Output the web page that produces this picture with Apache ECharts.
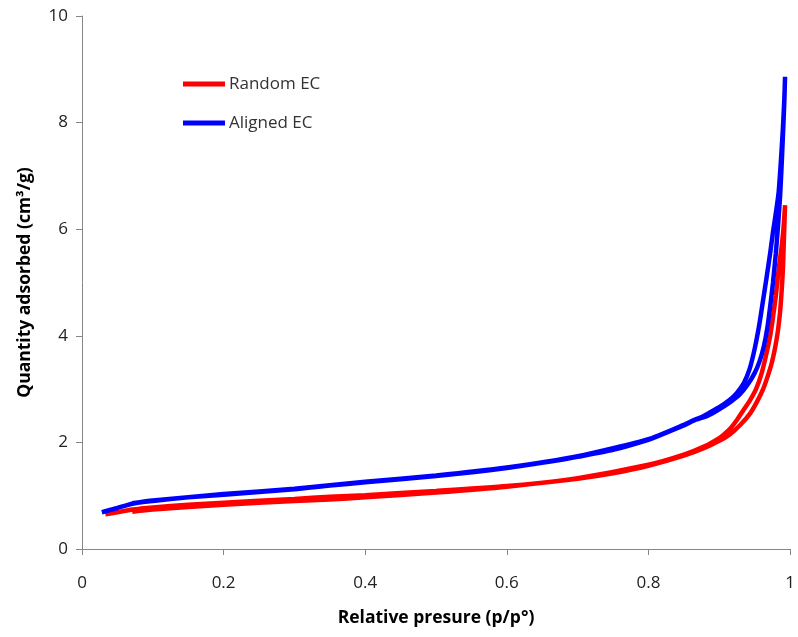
<!DOCTYPE html>
<html>
<head>
<meta charset="utf-8">
<script src="https://cdn.jsdelivr.net/npm/echarts@6/dist/echarts.min.js"></script>
<style>
html,body{margin:0;padding:0;background:#fff;}
#chart{width:798px;height:637px;}
</style>
</head>
<body>
<div id="chart"></div>
<script>
// Axis ticks
const xTicks = [0, 0.2, 0.4, 0.6, 0.8, 1];
const yTicks = [0, 2, 4, 6, 8, 10];

// Random EC - adsorption branch
const randomAdsP = [0.033, 0.05, 0.071, 0.1, 0.15, 0.2, 0.3, 0.35, 0.4, 0.5, 0.6, 0.7, 0.75, 0.8, 0.85, 0.88, 0.9, 0.915, 0.93, 0.944, 0.954, 0.962, 0.968, 0.974, 0.979, 0.983, 0.986, 0.988, 0.99, 0.991, 0.992, 0.993];
const randomAdsQ = [0.65, 0.69, 0.74, 0.78, 0.83, 0.87, 0.94, 0.98, 1.01, 1.09, 1.18, 1.32, 1.42, 1.56, 1.75, 1.90, 2.03, 2.15, 2.33, 2.55, 2.78, 3.00, 3.22, 3.48, 3.78, 4.10, 4.45, 4.80, 5.25, 5.65, 6.05, 6.45];
// Random EC - desorption branch
const randomDesP = [0.993, 0.991, 0.988, 0.984, 0.98, 0.976, 0.972, 0.967, 0.96, 0.952, 0.943, 0.934, 0.925, 0.915, 0.906, 0.9, 0.88, 0.85, 0.8, 0.7, 0.6, 0.5, 0.4, 0.35, 0.3, 0.2, 0.1, 0.071];
const randomDesQ = [6.45, 6.05, 5.65, 5.25, 4.75, 4.35, 4.00, 3.68, 3.30, 3.00, 2.78, 2.60, 2.42, 2.25, 2.14, 2.08, 1.93, 1.77, 1.58, 1.33, 1.17, 1.06, 0.97, 0.93, 0.90, 0.83, 0.74, 0.70];

// Aligned EC - adsorption branch
const alignedAdsP = [0.028, 0.05, 0.071, 0.1, 0.15, 0.2, 0.3, 0.35, 0.4, 0.5, 0.6, 0.675, 0.7, 0.75, 0.8, 0.816, 0.85, 0.866, 0.884, 0.9, 0.915, 0.929, 0.94, 0.95, 0.957, 0.963, 0.968, 0.972, 0.976, 0.98, 0.983, 0.986, 0.988, 0.99, 0.992, 0.993];
const alignedAdsQ = [0.69, 0.77, 0.85, 0.90, 0.97, 1.02, 1.12, 1.19, 1.25, 1.37, 1.52, 1.67, 1.73, 1.86, 2.05, 2.13, 2.32, 2.42, 2.50, 2.62, 2.75, 2.90, 3.08, 3.30, 3.52, 3.80, 4.15, 4.55, 5.00, 5.55, 6.05, 6.62, 7.15, 7.75, 8.40, 8.86];
// Aligned EC - desorption branch
const alignedDesP = [0.993, 0.992, 0.99, 0.987, 0.984, 0.98, 0.976, 0.972, 0.967, 0.962, 0.9565, 0.95, 0.943, 0.935, 0.925, 0.915, 0.9, 0.885, 0.876, 0.866, 0.85, 0.8, 0.7, 0.6, 0.5, 0.4, 0.3, 0.2, 0.1, 0.071];
const alignedDesQ = [8.86, 8.45, 7.90, 7.25, 6.70, 6.30, 5.95, 5.55, 5.10, 4.67, 4.20, 3.75, 3.38, 3.12, 2.93, 2.80, 2.66, 2.55, 2.48, 2.43, 2.33, 2.06, 1.74, 1.53, 1.38, 1.26, 1.13, 1.03, 0.91, 0.86];

const seriesNames = ['Random EC', 'Aligned EC'];
const seriesColors = ['#ff0000', '#0000ff'];

function zip(a, b) { return a.map((v, i) => [v, b[i]]); }

const randomData = zip(randomAdsP, randomAdsQ).concat(zip(randomDesP, randomDesQ));
const alignedData = zip(alignedAdsP, alignedAdsQ).concat(zip(alignedDesP, alignedDesQ));

const font = 'Open Sans';
const chart = echarts.init(document.getElementById('chart'));
chart.setOption({
  animation: false,
  backgroundColor: '#ffffff',
  grid: { left: 82, right: 8, top: 16, bottom: 88, containLabel: false },
  legend: {
    orient: 'vertical',
    left: 178,
    top: 69,
    itemWidth: 42,
    itemHeight: 5,
    itemGap: 19,
    icon: 'rect',
    textStyle: { fontFamily: font, fontSize: 17, lineHeight: 20, color: '#333', padding: [0, 0, 0, -1] },
    data: seriesNames
  },
  xAxis: {
    type: 'value',
    min: xTicks[0],
    max: xTicks[xTicks.length - 1],
    interval: 0.2,
    name: 'Relative presure (p/p°)',
    nameLocation: 'middle',
    nameGap: 60,
    nameTextStyle: { fontFamily: font, fontSize: 17.5, fontWeight: 'bold', color: '#000' },
    axisLine: { show: true, lineStyle: { color: '#868686', width: 1 } },
    axisTick: { show: true, inside: false, length: 6, lineStyle: { color: '#868686' } },
    axisLabel: { fontFamily: font, fontSize: 17, color: '#222', margin: 26,
      formatter: v => String(Math.round(v * 10) / 10) },
    splitLine: { show: false }
  },
  yAxis: {
    type: 'value',
    min: yTicks[0],
    max: yTicks[yTicks.length - 1],
    interval: 2,
    name: 'Quantity adsorbed (cm³/g)',
    nameLocation: 'middle',
    nameGap: 48,
    nameRotate: 90,
    nameTextStyle: { fontFamily: font, fontSize: 17.5, fontWeight: 'bold', color: '#000' },
    axisLine: { show: true, lineStyle: { color: '#868686', width: 1 } },
    axisTick: { show: true, inside: false, length: 6, lineStyle: { color: '#868686' } },
    axisLabel: { fontFamily: font, fontSize: 17, color: '#222', margin: 14 },
    splitLine: { show: false }
  },
  series: [
    { name: seriesNames[0], type: 'line', data: randomData, showSymbol: false, smooth: 0.2,
      color: seriesColors[0], lineStyle: { width: 4.5, color: seriesColors[0] }, z: 2 },
    { name: seriesNames[1], type: 'line', data: alignedData, showSymbol: false, smooth: 0.2,
      color: seriesColors[1], lineStyle: { width: 4.5, color: seriesColors[1] }, z: 3 }
  ]
});
</script>
</body>
</html>
